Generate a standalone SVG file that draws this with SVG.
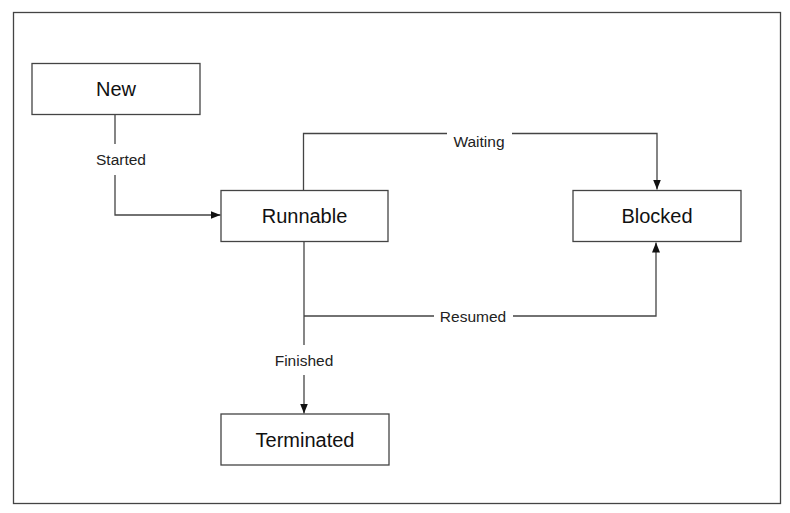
<svg xmlns="http://www.w3.org/2000/svg" width="790" height="513" viewBox="0 0 790 513">
<style>
.frame{fill:#fff;stroke:#444;stroke-width:1.3}
.node rect{fill:#fff;stroke:#444;stroke-width:1.3}
.node text{font-family:"Liberation Sans",Arial,sans-serif;font-size:20px;fill:#111;text-anchor:middle}
.edge{fill:none;stroke:#444;stroke-width:1.3}
.lbg{fill:#fff;stroke:none}
.lbl{font-family:"Liberation Sans",Arial,sans-serif;font-size:15.5px;fill:#222;text-anchor:middle}
</style>
<defs>
<marker id="arr" viewBox="0 0 10 10" refX="10" refY="5" markerWidth="10" markerHeight="10" markerUnits="userSpaceOnUse" orient="auto">
<path d="M0,1 L10,5 L0,9 Z" fill="#111"/>
</marker>
</defs>
<rect class="frame" x="13.5" y="12.5" width="767" height="491"/>
<g id="connectors">
<path class="edge" d="M115,114.5 V215 H220.5" marker-end="url(#arr)"/>
<path class="edge" d="M303.5,190.5 V133.5 H657 V189.5" marker-end="url(#arr)"/>
<path class="edge" d="M304,316 H656 V242.5" marker-end="url(#arr)"/>
<path class="edge" d="M304,241.5 V413.5" marker-end="url(#arr)"/>
<rect class="lbg" x="90" y="144" width="63" height="31"/>
<text class="lbl" x="121" y="165">Started</text>
<rect class="lbg" x="447" y="127" width="65" height="30"/>
<text class="lbl" x="479" y="147">Waiting</text>
<rect class="lbg" x="434" y="302" width="79" height="29"/>
<text class="lbl" x="473" y="321.5">Resumed</text>
<rect class="lbg" x="269" y="345" width="71" height="30"/>
<text class="lbl" x="304" y="365.5">Finished</text>
</g>
<g id="node-new" class="node">
<rect x="32" y="63.5" width="168" height="51"/>
<text x="116" y="96">New</text>
</g>
<g id="node-runnable" class="node">
<rect x="221" y="190.5" width="167" height="51"/>
<text x="304.5" y="223">Runnable</text>
</g>
<g id="node-blocked" class="node">
<rect x="573" y="190.5" width="168" height="51"/>
<text x="657" y="223">Blocked</text>
</g>
<g id="node-terminated" class="node">
<rect x="221" y="414" width="168" height="51"/>
<text x="305" y="446.5">Terminated</text>
</g>
</svg>
